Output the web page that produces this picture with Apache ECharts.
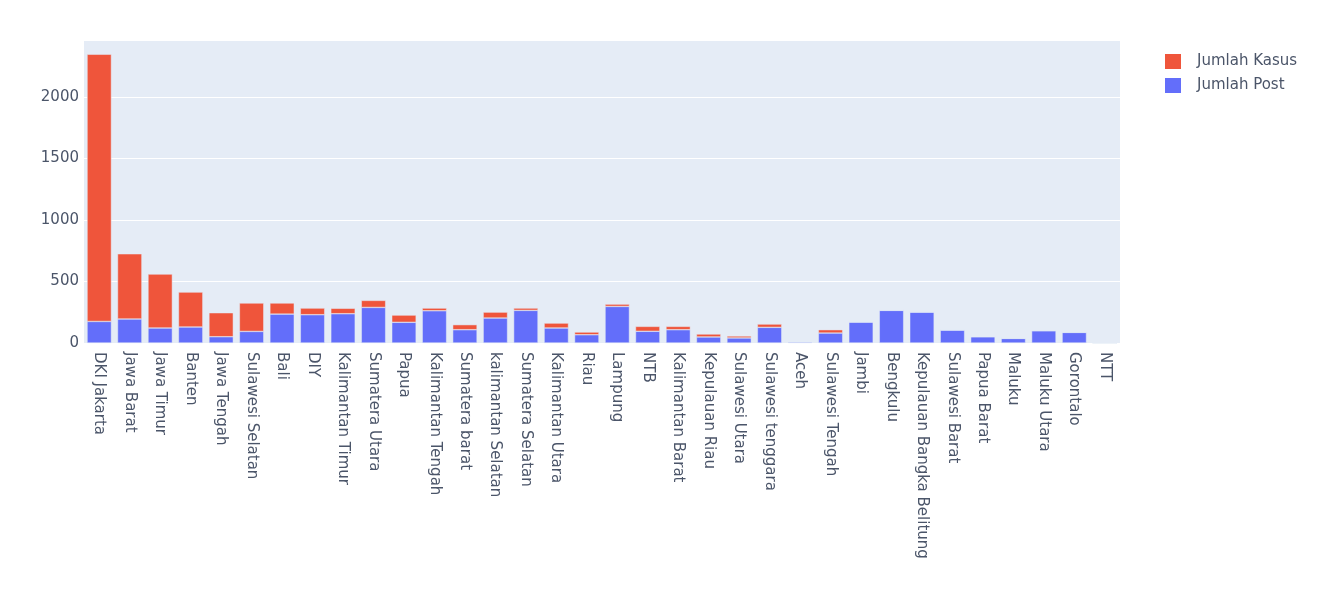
<!DOCTYPE html>
<html>
<head>
<meta charset="utf-8">
<script src="https://cdn.jsdelivr.net/npm/echarts@6/dist/echarts.min.js"></script>
<style>
  html, body { margin: 0; padding: 0; background: #fff; }
  #chart { width: 1338px; height: 592px; }
</style>
</head>
<body>
<div id="chart"></div>
<script>
// provinsi
const provinsi = ['DKI Jakarta', 'Jawa Barat', 'Jawa Timur', 'Banten', 'Jawa Tengah', 'Sulawesi Selatan',
  'Bali', 'DIY', 'Kalimantan Timur', 'Sumatera Utara', 'Papua', 'Kalimantan Tengah', 'Sumatera barat',
  'kalimantan Selatan', 'Sumatera Selatan', 'Kalimantan Utara', 'Riau', 'Lampung', 'NTB', 'Kalimantan Barat',
  'Kepulauan Riau', 'Sulawesi Utara', 'Sulawesi tenggara', 'Aceh', 'Sulawesi Tengah', 'Jambi', 'Bengkulu',
  'Kepulauan Bangka Belitung', 'Sulawesi Barat', 'Papua Barat', 'Maluku', 'Maluku Utara', 'Gorontalo', 'NTT']

// jumlah post (bagian bawah)
const jumlahPost = [175, 195, 122, 130, 51, 94, 235, 230, 238, 289, 168, 262, 108, 203, 265, 122, 67,
  297, 95, 108, 49, 41, 127, 8, 81, 170, 265, 251, 105, 51, 37, 100, 86, 0]

// jumlah kasus (ditumpuk di atas post)
const jumlahKasus = [2171, 530, 438, 284, 195, 231, 90, 54, 44, 57, 59, 22, 41, 48, 19, 40, 22,
  19, 40, 27, 24, 16, 27, 4, 27, 0, 0, 0, 0, 0, 0, 0, 0, 0]

const yTicks = [0, 500, 1000, 1500, 2000]

const fontFamily = '"DejaVu Sans", Verdana, sans-serif'
const textColor = '#4b5569'

const chart = echarts.init(document.getElementById('chart'))
chart.setOption({
  animation: false,
  textStyle: { fontFamily: fontFamily },
  legend: {
    orient: 'vertical',
    left: 1160,
    top: 49,
    itemWidth: 16,
    itemHeight: 15,
    itemGap: 9,
    icon: 'rect',
    itemStyle: { borderWidth: 0 },
    data: ['Jumlah Kasus', 'Jumlah Post'],
    textStyle: { color: textColor, fontSize: 15, fontFamily: fontFamily, padding: [0, 0, 0, 11] }
  },
  grid: {
    left: 84,
    right: 218,
    top: 40,
    bottom: 249,
    show: true,
    backgroundColor: '#E5ECF6',
    borderWidth: 0
  },
  xAxis: {
    type: 'category',
    data: provinsi,
    axisLine: { show: false },
    axisTick: { show: false },
    axisLabel: {
      rotate: -90,
      interval: 0,
      margin: 9,
      color: textColor,
      fontSize: 15,
      fontFamily: fontFamily
    }
  },
  yAxis: {
    type: 'value',
    min: 0,
    max: 2462,
    interval: 500,
    axisLine: { show: false },
    axisTick: { show: false },
    axisLabel: {
      showMaxLabel: false,
      margin: 5,
      color: textColor,
      fontSize: 15,
      fontFamily: fontFamily,
      formatter: v => (yTicks.indexOf(v) >= 0 ? String(v) : '')
    },
    splitLine: { lineStyle: { color: '#ffffff', width: 1 } }
  },
  series: [
    {
      name: 'Jumlah Post',
      type: 'bar',
      stack: 'total',
      barCategoryGap: '20%',
      data: jumlahPost,
      itemStyle: { color: '#636EFA', borderColor: '#E5ECF6', borderWidth: 0.5 }
    },
    {
      name: 'Jumlah Kasus',
      type: 'bar',
      stack: 'total',
      barCategoryGap: '20%',
      data: jumlahKasus,
      itemStyle: { color: '#EF553B', borderColor: '#E5ECF6', borderWidth: 0.5 }
    }
  ]
})
</script>
</body>
</html>
